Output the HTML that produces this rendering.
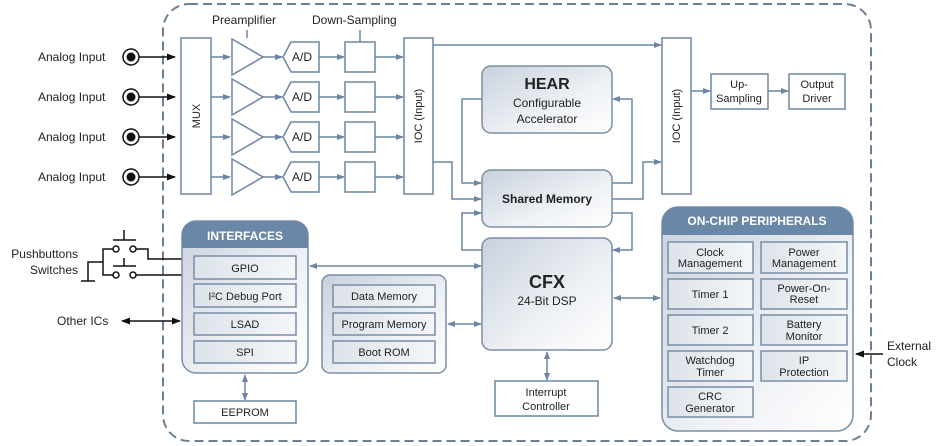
<!DOCTYPE html>
<html><head><meta charset="utf-8"><style>
html,body{margin:0;padding:0;background:#fff}
svg{display:block;font-family:"Liberation Sans",Arial,sans-serif}
</style></head><body>
<svg width="942" height="446" viewBox="0 0 942 446" xmlns="http://www.w3.org/2000/svg">
<defs>
<linearGradient id="g" x1="0" y1="0" x2="1" y2="1">
<stop offset="0" stop-color="#c9d1dd"/><stop offset="0.6" stop-color="#eef1f5"/><stop offset="1" stop-color="#ffffff"/></linearGradient>
<linearGradient id="g2" x1="0" y1="0" x2="1" y2="0">
<stop offset="0" stop-color="#dde3ea"/><stop offset="1" stop-color="#f4f6f8"/></linearGradient>
<marker id="a" markerWidth="8" markerHeight="6" refX="7" refY="3" orient="auto" markerUnits="userSpaceOnUse"><path d="M0,0 L8,3 L0,6 Z" fill="#6b85a3"/></marker>
<marker id="as" markerWidth="8" markerHeight="6" refX="1" refY="3" orient="auto" markerUnits="userSpaceOnUse"><path d="M8,0 L0,3 L8,6 Z" fill="#6b85a3"/></marker>
<marker id="k" markerWidth="9" markerHeight="7" refX="8" refY="3.5" orient="auto" markerUnits="userSpaceOnUse"><path d="M0,0 L9,3.5 L0,7 Z" fill="#111"/></marker>
<marker id="ks" markerWidth="9" markerHeight="7" refX="1" refY="3.5" orient="auto" markerUnits="userSpaceOnUse"><path d="M9,0 L0,3.5 L9,7 Z" fill="#111"/></marker>
</defs>
<rect x="163" y="4" width="708" height="437" rx="26" fill="none" stroke="#6b7f95" stroke-width="2" stroke-dasharray="9,5"/>

<g font-size="12" fill="#222">
<text x="38" y="61">Analog Input</text><text x="38" y="101">Analog Input</text>
<text x="38" y="141">Analog Input</text><text x="38" y="181">Analog Input</text>
<text x="78" y="258" text-anchor="end">Pushbuttons</text><text x="78" y="274" text-anchor="end">Switches</text>
<text x="57" y="325">Other ICs</text>
<text x="887" y="350">External</text><text x="887" y="366">Clock</text>
<text x="212" y="24">Preamplifier</text><text x="312" y="24">Down-Sampling</text>
</g>

<g stroke="#111" stroke-width="1.5" fill="none">
<circle cx="131" cy="57" r="8"/><circle cx="131" cy="97" r="8"/><circle cx="131" cy="137" r="8"/><circle cx="131" cy="177" r="8"/>
<line x1="139" y1="57" x2="175" y2="57" marker-end="url(#k)"/>
<line x1="139" y1="97" x2="175" y2="97" marker-end="url(#k)"/>
<line x1="139" y1="137" x2="175" y2="137" marker-end="url(#k)"/>
<line x1="139" y1="177" x2="175" y2="177" marker-end="url(#k)"/>
<line x1="122" y1="321" x2="180" y2="321" marker-end="url(#k)" marker-start="url(#ks)"/>
<line x1="883" y1="354" x2="856" y2="354" marker-end="url(#k)"/>
<!-- switches -->
<circle cx="116" cy="249" r="3"/><circle cx="133" cy="249" r="3"/>
<circle cx="116" cy="275" r="3"/><circle cx="133" cy="275" r="3"/>
<line x1="113" y1="240" x2="136" y2="240"/><line x1="124" y1="230" x2="124" y2="240"/>
<line x1="113" y1="266" x2="136" y2="266"/><line x1="124" y1="258" x2="124" y2="266"/>
<polyline points="136,249 148,249 148,259 182,259"/>
<line x1="136" y1="275" x2="182" y2="275"/>
<polyline points="113,249 103,249 103,275 113,275"/>
<polyline points="103,262 88,262 88,281"/><line x1="81" y1="281" x2="95" y2="281"/>
</g>
<g fill="#111"><circle cx="131" cy="57" r="4.5"/><circle cx="131" cy="97" r="4.5"/><circle cx="131" cy="137" r="4.5"/><circle cx="131" cy="177" r="4.5"/></g>

<g stroke="#6b85a3" stroke-width="1.5" fill="#fff">
<rect x="181" y="38" width="30" height="156"/>
<rect x="404" y="38" width="29" height="156"/>
<rect x="662" y="38" width="29" height="156"/>
<line x1="247" y1="38" x2="247" y2="30"/><line x1="360" y1="42" x2="360" y2="30"/>
</g>
<g font-size="11" fill="#222">
<text transform="translate(200,116) rotate(-90)" text-anchor="middle">MUX</text>
<text transform="translate(422,116) rotate(-90)" text-anchor="middle">IOC (Input)</text>
<text transform="translate(680,116) rotate(-90)" text-anchor="middle">IOC (Input)</text>
</g>

<g stroke="#6b85a3" stroke-width="1.5" fill="#fff" font-size="12">
<!-- rows -->
<g id="row">
<line x1="211" y1="57" x2="230" y2="57" marker-end="url(#a)" fill="none"/>
<path d="M232,39 L263,57 L232,75 Z"/>
<line x1="263" y1="57" x2="282" y2="57" marker-end="url(#a)"/>
<path d="M283,57 L291,42 L319,42 L319,72 L291,72 Z"/>
<line x1="319" y1="57" x2="344" y2="57" marker-end="url(#a)"/>
<rect x="345" y="42" width="30" height="30"/>
<line x1="375" y1="57" x2="403" y2="57" marker-end="url(#a)"/>
<text x="302" y="61" text-anchor="middle" fill="#222" stroke="none">A/D</text>
</g>
<use href="#row" y="40"/><use href="#row" y="80"/><use href="#row" y="120"/>
</g>

<g stroke="#6b85a3" stroke-width="1.5" fill="none">
<line x1="433" y1="45" x2="661" y2="45" marker-end="url(#a)"/>
<polyline points="433,162 452,162 452,199 481,199" marker-end="url(#a)"/>
<polyline points="482,99 462,99 462,183 481,183" marker-end="url(#a)"/>
<polyline points="612,183 632,183 632,99 613,99" marker-end="url(#a)"/>
<polyline points="612,199 643,199 643,162 661,162" marker-end="url(#a)"/>
<polyline points="612,213 632,213 632,250 613,250" marker-end="url(#a)"/>
<polyline points="482,250 462,250 462,213 481,213" marker-end="url(#a)"/>
<line x1="691" y1="91" x2="710" y2="91" marker-end="url(#a)"/>
<line x1="768" y1="91" x2="788" y2="91" marker-end="url(#a)"/>
<line x1="310" y1="266" x2="481" y2="266" marker-start="url(#as)" marker-end="url(#a)"/>
<line x1="448" y1="324" x2="481" y2="324" marker-start="url(#as)" marker-end="url(#a)"/>
<line x1="614" y1="298" x2="660" y2="298" marker-start="url(#as)" marker-end="url(#a)"/>
<line x1="547" y1="352" x2="547" y2="380" marker-start="url(#as)" marker-end="url(#a)"/>
<line x1="245" y1="375" x2="245" y2="400" marker-start="url(#as)" marker-end="url(#a)"/>
</g>

<g stroke="#6b85a3" stroke-width="1.5" fill="#fff">
<rect x="711" y="74" width="57" height="35"/><rect x="789" y="74" width="56" height="35"/>
<rect x="194" y="401" width="102" height="22"/>
<rect x="495" y="381" width="103" height="35"/>
</g>
<g font-size="11" fill="#222" text-anchor="middle">
<text x="739" y="88">Up-</text><text x="739" y="102">Sampling</text>
<text x="817" y="88">Output</text><text x="817" y="102">Driver</text>
<text x="245" y="416">EEPROM</text>
<text x="546" y="396">Interrupt</text><text x="546" y="410">Controller</text>
</g>

<g stroke="#7a8ea6" stroke-width="1.5" fill="url(#g)">
<rect x="482" y="66" width="130" height="67" rx="9"/>
<rect x="482" y="170" width="130" height="57" rx="9"/>
<rect x="482" y="238" width="130" height="112" rx="9"/>
<rect x="182" y="221" width="126" height="152" rx="14"/>
<rect x="322" y="275" width="124" height="98" rx="8"/>
<rect x="662" y="207" width="191" height="224" rx="16"/>
</g>
<path d="M196,221 H294 A14,14 0 0 1 308,235 V248 H182 V235 A14,14 0 0 1 196,221 Z" fill="#6b87a8"/>
<path d="M678,207 H837 A16,16 0 0 1 853,223 V235 H662 V223 A16,16 0 0 1 678,207 Z" fill="#6b87a8"/>
<g font-weight="bold" fill="#fff" font-size="12" text-anchor="middle">
<text x="245" y="240">INTERFACES</text><text x="757" y="225">ON-CHIP PERIPHERALS</text>
</g>
<g fill="#222" text-anchor="middle">
<text x="547" y="89" font-size="16" font-weight="bold">HEAR</text>
<text x="547" y="107" font-size="12">Configurable</text><text x="547" y="123" font-size="12">Accelerator</text>
<text x="547" y="203" font-size="12" font-weight="bold">Shared Memory</text>
<text x="547" y="288" font-size="18" font-weight="bold">CFX</text>
<text x="547" y="305" font-size="12">24-Bit DSP</text>
</g>

<g stroke="#7a8ea6" stroke-width="1.5" fill="url(#g2)">
<rect x="194" y="256" width="102" height="23"/><rect x="194" y="284" width="102" height="23"/>
<rect x="194" y="313" width="102" height="22"/><rect x="194" y="341" width="102" height="22"/>
<rect x="333" y="285" width="102" height="22"/><rect x="333" y="313" width="102" height="22"/><rect x="333" y="341" width="102" height="22"/>
<rect x="668" y="242" width="85" height="31"/><rect x="761" y="242" width="86" height="31"/>
<rect x="668" y="279" width="85" height="30"/><rect x="761" y="279" width="86" height="30"/>
<rect x="668" y="315" width="85" height="30"/><rect x="761" y="315" width="86" height="30"/>
<rect x="668" y="351" width="85" height="30"/><rect x="761" y="351" width="86" height="30"/>
<rect x="668" y="387" width="85" height="30"/>
</g>
<g font-size="11" fill="#222" text-anchor="middle">
<text x="245" y="272">GPIO</text><text x="245" y="300">I²C Debug Port</text>
<text x="245" y="328">LSAD</text><text x="245" y="356">SPI</text>
<text x="384" y="300">Data Memory</text><text x="384" y="328">Program Memory</text><text x="384" y="356">Boot ROM</text>
<text x="710" y="256">Clock</text><text x="710" y="267">Management</text>
<text x="804" y="256">Power</text><text x="804" y="267">Management</text>
<text x="710" y="298">Timer 1</text>
<text x="804" y="292">Power-On-</text><text x="804" y="303">Reset</text>
<text x="710" y="334">Timer 2</text>
<text x="804" y="328">Battery</text><text x="804" y="340">Monitor</text>
<text x="710" y="364">Watchdog</text><text x="710" y="376">Timer</text>
<text x="804" y="364">IP</text><text x="804" y="376">Protection</text>
<text x="710" y="400">CRC</text><text x="710" y="412">Generator</text>
</g>
</svg>
</body></html>
